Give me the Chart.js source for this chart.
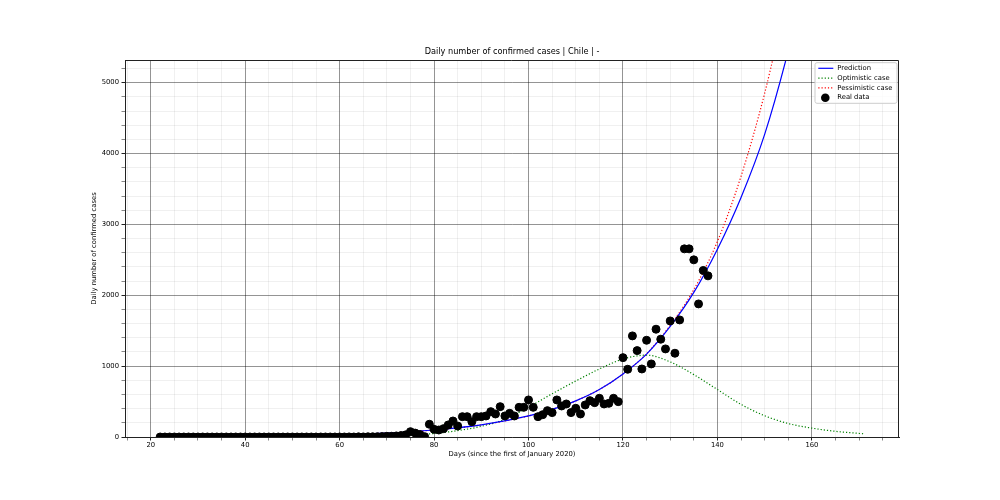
<!DOCTYPE html>
<html>
<head>
<meta charset="utf-8">
<title>Daily number of confirmed cases | Chile</title>
<script src="https://cdn.jsdelivr.net/npm/chart.js@4.4.0/dist/chart.umd.min.js"></script>
<style>
body{margin:0;background:#fff;}
#chart{display:block;}
</style>
</head>
<body>
<canvas id="chart" width="1000" height="500"></canvas>
<script>
// Real data: days since 1 Jan 2020 and daily confirmed cases
const realDays=[22,23,24,25,26,27,28,29,30,31,32,33,34,35,36,37,38,39,40,41,
  42,43,44,45,46,47,48,49,50,51,52,53,54,55,56,57,58,59,60,61,
  62,63,64,65,66,67,68,69,70,71,72,73,74,75,76,77,78,79,80,81,
  82,83,84,85,86,87,88,89,90,91,92,93,94,95,96,97,98,99,100,101,
  102,103,104,105,106,107,108,109,110,111,112,113,114,115,116,117,118,119,120,121,
  122,123,124,125,126,127,128,129,130,131,132,133,134,135,136,137,138];
const realCases=[0,0,0,0,0,0,0,0,0,0,0,0,0,0,0,0,0,0,0,0,
  0,0,0,0,0,0,0,0,0,0,0,0,0,0,0,0,0,0,0,0,
  1,0,2,1,3,3,4,6,10,10,15,20,30,75,55,35,5,180,108,99,
  118,170,226,155,287,287,216,287,287,297,358,325,428,297,334,297,419,419,523,419,
  287,315,372,344,523,438,466,344,405,325,452,513,485,546,466,475,546,499,1120,956,
  1427,1219,960,1365,1031,1521,1380,1243,1638,1182,1652,2655,2655,2500,1878,2350,2274];

// Model curves
const predDays=[22,30,40,50,60,70,80,90,100,105,110,115,120,125,130,135,140,145,150,155,158];
const predCases=[4,6,10,17,32,55,99,170,297,390,510,670,890,1170,1560,2040,2650,3380,4270,5450,6300];
const pessDays=[22,30,40,50,60,70,80,90,100,105,110,115,120,125,130,135,140,145,150,155];
const pessCases=[4,6,10,17,32,55,99,170,297,390,510,670,890,1175,1575,2080,2760,3680,4850,6300];
const optDays=[22,40,60,70,75,80,85,90,95,100,105,110,115,120,125,130,135,140,145,150,155,160,165,171];
const optCases=[0,1,4,12,25,50,90,150,250,420,610,790,960,1100,1155,1060,880,670,460,300,190,125,80,45];

const xMin=14.55, xMax=178.45, yMin=0, yMax=5320;
const xMajor=20, xMinor=5, yMajor=1000, yMinor=200;

const pts=(xs,ys)=>xs.map((x,i)=>({x:x,y:ys[i]}));

const font='"DejaVu Sans", sans-serif';
const smallFont={family:font,size:6.8};
// translucent so crossings darken like matplotlib instead of breaking the major lines
const majorGrid='rgba(0,0,0,0.42)', minorGrid='rgba(0,0,0,0.06)';

// top/right spines
const framePlugin={
  id:'frame',
  afterDatasetsDraw(chart){
    const {ctx,chartArea:a}=chart;
    ctx.save();
    ctx.strokeStyle='#222';
    ctx.lineWidth=1;
    ctx.beginPath();
    ctx.moveTo(a.left,a.top+0.5);
    ctx.lineTo(a.right-0.5,a.top+0.5);
    ctx.lineTo(a.right-0.5,a.bottom);
    ctx.stroke();
    ctx.restore();
  }
};

// legend box inside the plot, upper right
const boxLegend={
  id:'boxLegend',
  afterDraw(chart){
    const {ctx,chartArea:a}=chart;
    const w=82, h=40.6, x=a.right-84, y=a.top+2.7, r=2;
    ctx.save();
    ctx.beginPath();
    ctx.moveTo(x+r,y);ctx.lineTo(x+w-r,y);ctx.quadraticCurveTo(x+w,y,x+w,y+r);
    ctx.lineTo(x+w,y+h-r);ctx.quadraticCurveTo(x+w,y+h,x+w-r,y+h);
    ctx.lineTo(x+r,y+h);ctx.quadraticCurveTo(x,y+h,x,y+h-r);
    ctx.lineTo(x,y+r);ctx.quadraticCurveTo(x,y,x+r,y);
    ctx.closePath();
    ctx.fillStyle='rgba(255,255,255,0.8)';
    ctx.fill();
    ctx.strokeStyle='#cccccc';
    ctx.lineWidth=1;
    ctx.stroke();
    ctx.font='6.8px '+font;
    ctx.textBaseline='middle';
    chart.data.datasets.forEach((ds,i)=>{
      const ry=y+5.6+i*9.8;
      if(ds.showLine){
        ctx.strokeStyle=ds.borderColor;
        ctx.lineWidth=ds.borderWidth;
        ctx.setLineDash(ds.borderDash||[]);
        ctx.beginPath();ctx.moveTo(x+3.3,ry);ctx.lineTo(x+18.3,ry);ctx.stroke();
        ctx.setLineDash([]);
      }else{
        ctx.fillStyle=ds.backgroundColor;
        ctx.beginPath();ctx.arc(x+10.3,ry,4.3,0,Math.PI*2);ctx.fill();
      }
      ctx.fillStyle='#000';
      ctx.fillText(ds.label,x+22.3,ry);
    });
    ctx.restore();
  }
};

const ctx=document.getElementById('chart').getContext('2d');
const chart=new Chart(ctx,{
  type:'scatter',
  data:{
    datasets:[
      {label:'Prediction',data:pts(predDays,predCases),showLine:true,borderColor:'blue',borderWidth:1.2,
        pointRadius:0,cubicInterpolationMode:'monotone'},
      {label:'Optimistic case',data:pts(optDays,optCases),showLine:true,borderColor:'green',borderWidth:1.2,
        borderDash:[1.2,2],pointRadius:0,cubicInterpolationMode:'monotone'},
      {label:'Pessimistic case',data:pts(pessDays,pessCases),showLine:true,borderColor:'red',borderWidth:1.2,
        borderDash:[1.2,2],pointRadius:0,cubicInterpolationMode:'monotone'},
      {label:'Real data',data:pts(realDays,realCases),showLine:false,backgroundColor:'#000',borderColor:'#000',
        pointRadius:4,pointBorderWidth:1,order:-1}
    ]
  },
  options:{
    responsive:false,
    animation:false,
    layout:{padding:{left:88,right:101,top:47,bottom:40}},
    plugins:{
      legend:{display:false},
      tooltip:{enabled:false},
      title:{display:true,fullSize:false,text:'Daily number of confirmed cases | Chile | -',
        color:'#000',font:{family:font,size:8.2,weight:'normal'},padding:{top:0,bottom:3.16}}
    },
    scales:{
      x:{
        type:'linear',min:xMin,max:xMax,
        ticks:{stepSize:xMinor,includeBounds:false,autoSkip:false,maxRotation:0,padding:0.5,
          color:'#000',font:smallFont,callback:v=>v%xMajor===0?v:''},
        grid:{color:c=>c.tick&&c.tick.value%xMajor===0?majorGrid:minorGrid,lineWidth:1,tickLength:3.5,
          tickColor:c=>c.tick&&c.tick.value%xMajor===0?'#222':'#888'},
        border:{color:'#222',width:1},
        title:{display:true,text:'Days (since the first of January 2020)',color:'#000',font:smallFont,
          padding:{top:0,bottom:2}},
        afterFit:s=>{s.height=23;}
      },
      y:{
        type:'linear',min:yMin,max:yMax,
        ticks:{stepSize:yMinor,includeBounds:false,autoSkip:false,padding:2.5,
          color:'#000',font:smallFont,callback:v=>v%yMajor===0?v:''},
        grid:{color:c=>c.tick&&c.tick.value%yMajor===0?majorGrid:minorGrid,lineWidth:1,tickLength:3.5,
          tickColor:c=>c.tick&&c.tick.value%yMajor===0?'#222':'#888'},
        border:{color:'#222',width:1},
        title:{display:true,text:'Daily number of confirmed cases',color:'#000',font:smallFont,
          padding:{top:2.5,bottom:0}},
        afterFit:s=>{s.width=37;}
      }
    }
  },
  plugins:[framePlugin,boxLegend]
});
</script>
</body>
</html>
